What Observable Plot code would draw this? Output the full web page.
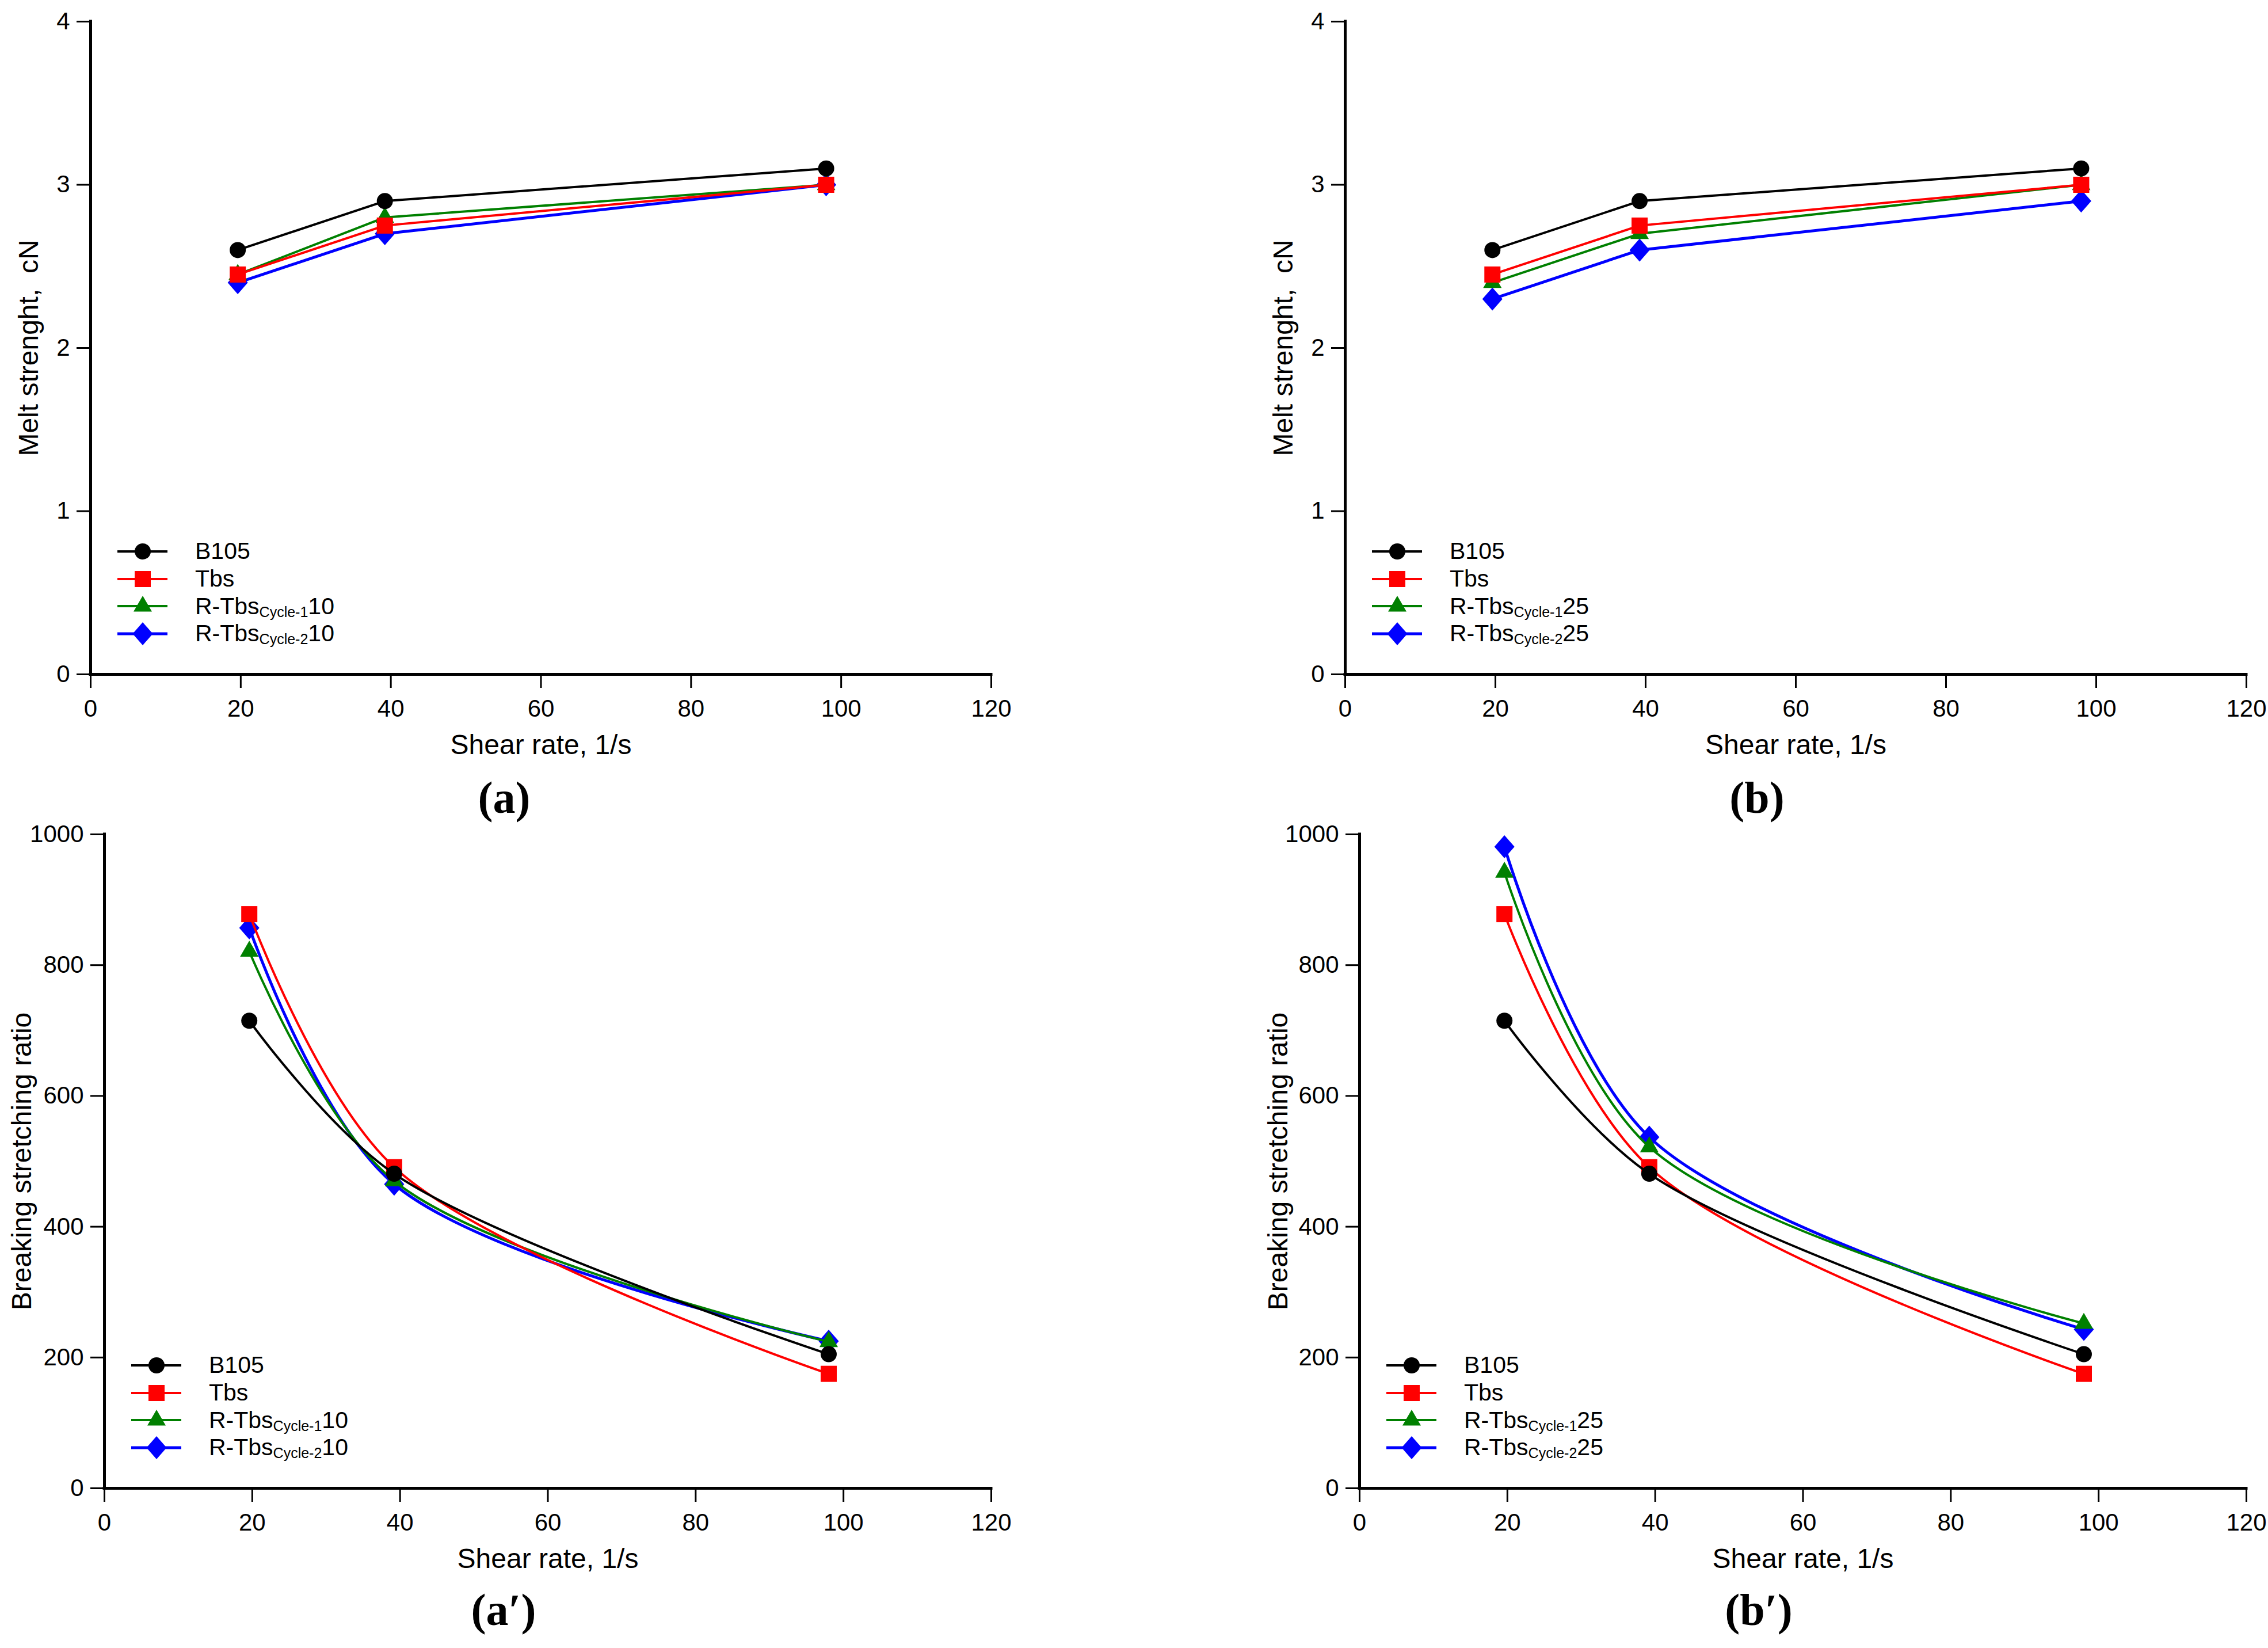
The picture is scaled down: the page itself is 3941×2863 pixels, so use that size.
<!DOCTYPE html>
<html>
<head>
<meta charset="utf-8">
<script src="https://cdn.jsdelivr.net/npm/d3@7"></script>
<script src="https://cdn.jsdelivr.net/npm/@observablehq/plot@0.6"></script>
<style>
  body { margin: 0; background: white; width: 3941px; height: 2863px; position: relative; overflow: hidden;
         font-family: "Liberation Sans", Arial, sans-serif; }
  .panel { position: absolute; }
  .panel svg { overflow: visible; }
  .tag { position: absolute; transform: translate(-50%, -50%); white-space: nowrap; line-height: 1; z-index: 5;
         font-family: "Liberation Serif", "Times New Roman", serif; font-weight: bold; font-size: 78px; }
  .legend { position: absolute; font-size: 41px; line-height: 1; }
  .row { display: flex; align-items: center; height: 47.7px; }
  .row svg { flex: none; }
  .row .lab { margin-left: 48px; white-space: nowrap; }
  .row sub { font-size: 25px; vertical-align: baseline; position: relative; top: 5px; }
</style>
</head>
<body>
<script>
// shear rate of the three measurements (1/s)
const shear = [19.6, 39.2, 98];

// melt strength, cN
const meltB105 = [2.6, 2.9, 3.1];
const meltTbs = [2.45, 2.75, 3.0];
const meltC1_10 = [2.45, 2.8, 3.0];
const meltC2_10 = [2.4, 2.7, 3.0];
const meltC1_25 = [2.4, 2.7, 3.0];
const meltC2_25 = [2.3, 2.6, 2.9];

// breaking stretching ratio
const bsrB105 = [715, 481, 205];
const bsrTbs = [878, 491, 175];
const bsrC1_10 = [821, 470, 224];
const bsrC2_10 = [857, 465, 225];
const bsrC1_25 = [942, 522, 252];
const bsrC2_25 = [981, 537, 243];

const xTicks = [0, 20, 40, 60, 80, 100, 120];
const meltTicks = [0, 1, 2, 3, 4];
const bsrTicks = [0, 200, 400, 600, 800, 1000];

// diamond a bit wider than d3's default one
const diamond = {
  draw(ctx, size) {
    const s = Math.sqrt(size);
    const w = s * 0.617, h = s * 0.705;
    ctx.moveTo(0, -h); ctx.lineTo(w, 0); ctx.lineTo(0, h); ctx.lineTo(-w, 0); ctx.closePath();
  }
};

const styles = {
  b105: {color: "#000000", symbol: "circle", r: 14, width: 4},
  tbs:  {color: "#ff0000", symbol: "square", r: 15.8, width: 4},
  c1:   {color: "#008000", symbol: "triangle", r: 11.9, width: 4},
  c2:   {color: "#0000ff", symbol: diamond, r: 16, width: 5}
};

function rows(keys, values) {
  return keys.map((k, i) => ({key: k, values: values[i]}));
}

const panels = [
  {left: 0, top: 0, mLeft: 157, mTop: 37, frameW: 1565, frameH: 1134, mRight: 45, yLabelOffset: 126,
   yDomain: [0, 4], yTicks: meltTicks, yLabel: "Melt strenght,\u00a0 cN", curve: "linear", suffix: "10",
   series: rows(["b105", "tbs", "c1", "c2"], [meltB105, meltTbs, meltC1_10, meltC2_10]),
   tag: "(a)", tagX: 876, tagY: 1386},
  {left: 2200, top: 0, mLeft: 137, mTop: 37, frameW: 1566, frameH: 1134, mRight: 38, yLabelOffset: 126,
   yDomain: [0, 4], yTicks: meltTicks, yLabel: "Melt strenght,\u00a0 cN", curve: "linear", suffix: "25",
   series: rows(["b105", "tbs", "c1", "c2"], [meltB105, meltTbs, meltC1_25, meltC2_25]),
   tag: "(b)", tagX: 3053, tagY: 1386},
  {left: 0, top: 1400, mLeft: 181, mTop: 49, frameW: 1541, frameH: 1136, mRight: 45, yLabelOffset: 162,
   yDomain: [0, 1000], yTicks: bsrTicks, yLabel: "Breaking stretching ratio", curve: "catmull-rom", suffix: "10",
   series: rows(["b105", "tbs", "c1", "c2"], [bsrB105, bsrTbs, bsrC1_10, bsrC2_10]),
   tag: "(a\u2032)", tagX: 875, tagY: 2797},
  {left: 2200, top: 1400, mLeft: 162, mTop: 49, frameW: 1541, frameH: 1136, mRight: 38, yLabelOffset: 160,
   yDomain: [0, 1000], yTicks: bsrTicks, yLabel: "Breaking stretching ratio", curve: "catmull-rom", suffix: "25",
   series: rows(["b105", "tbs", "c1", "c2"], [bsrB105, bsrTbs, bsrC1_25, bsrC2_25]),
   tag: "(b\u2032)", tagX: 3056, tagY: 2797}
];

function swatch(st) {
  const c = st.color;
  let m = "";
  if (st.symbol === "circle") m = `<circle cx="44" cy="24" r="14" fill="${c}"/>`;
  else if (st.symbol === "square") m = `<rect x="30" y="10" width="28" height="28" fill="${c}"/>`;
  else if (st.symbol === "triangle") m = `<polygon points="44,6 28,33.5 60,33.5" fill="${c}"/>`;
  else m = `<polygon points="44,4 61.5,24 44,44 26.5,24" fill="${c}"/>`;
  return `<svg width="87" height="48"><line x1="0" x2="87" y1="24" y2="24" stroke="${c}" stroke-width="${st.width}"/>${m}</svg>`;
}

function legendLabel(key, suffix) {
  if (key === "b105") return "B105";
  if (key === "tbs") return "Tbs";
  const n = key === "c1" ? "1" : "2";
  return `R-Tbs<sub>Cycle-${n}</sub>${suffix}`;
}

for (const p of panels) {
  const marks = [];
  // draw order: blue under green under red under black
  for (const s of p.series.slice().reverse()) {
    const st = styles[s.key];
    const data = shear.map((x, i) => ({x, y: s.values[i]}));
    marks.push(Plot.line(data, {x: "x", y: "y", stroke: st.color, strokeWidth: st.width, curve: p.curve}));
    marks.push(Plot.dot(data, {x: "x", y: "y", symbol: st.symbol, r: st.r, fill: st.color, stroke: "none"}));
  }
  marks.push(
    Plot.axisX(xTicks, {anchor: "bottom", tickSize: 24, tickPadding: 20, fontSize: 42, strokeWidth: 3,
                        tickFormat: d => String(d), label: null}),
    Plot.axisX([], {anchor: "bottom", tickSize: 0, fontSize: 48, label: "Shear rate, 1/s",
                    labelAnchor: "center", labelOffset: 138, labelArrow: false}),
    Plot.axisY(p.yTicks, {anchor: "left", tickSize: 24, tickPadding: 12, fontSize: 42, strokeWidth: 3,
                          tickFormat: d => String(d), label: null}),
    Plot.axisY([], {anchor: "left", tickSize: 0, fontSize: 48, label: p.yLabel,
                    labelAnchor: "center", labelOffset: p.yLabelOffset, labelArrow: false}),
    Plot.ruleX([0], {strokeWidth: 5, strokeLinecap: "square"}),
    Plot.ruleY([0], {strokeWidth: 5, strokeLinecap: "square"})
  );

  const chart = Plot.plot({
    width: p.mLeft + p.frameW + p.mRight,
    height: p.mTop + p.frameH + 150,
    marginLeft: p.mLeft,
    marginTop: p.mTop,
    marginBottom: 150,
    marginRight: p.mRight,
    style: {fontFamily: "'Liberation Sans', Arial, sans-serif", background: "none", color: "black"},
    x: {domain: [0, 120]},
    y: {domain: p.yDomain},
    marks
  });

  const box = d3.select("body").append("div").attr("class", "panel")
    .style("left", p.left + "px").style("top", p.top + "px");
  box.append(() => chart);

  const leg = box.append("div").attr("class", "legend")
    .style("left", (p.mLeft + 47) + "px")
    .style("top", (p.mTop + p.frameH - 213 - 24) + "px");
  for (const s of p.series) {
    const st = styles[s.key];
    leg.append("div").attr("class", "row")
      .html(swatch(st) + `<span class="lab">${legendLabel(s.key, p.suffix)}</span>`);
  }

  d3.select("body").append("div").attr("class", "tag")
    .style("left", p.tagX + "px").style("top", p.tagY + "px")
    .text(p.tag);
}
</script>
</body>
</html>
